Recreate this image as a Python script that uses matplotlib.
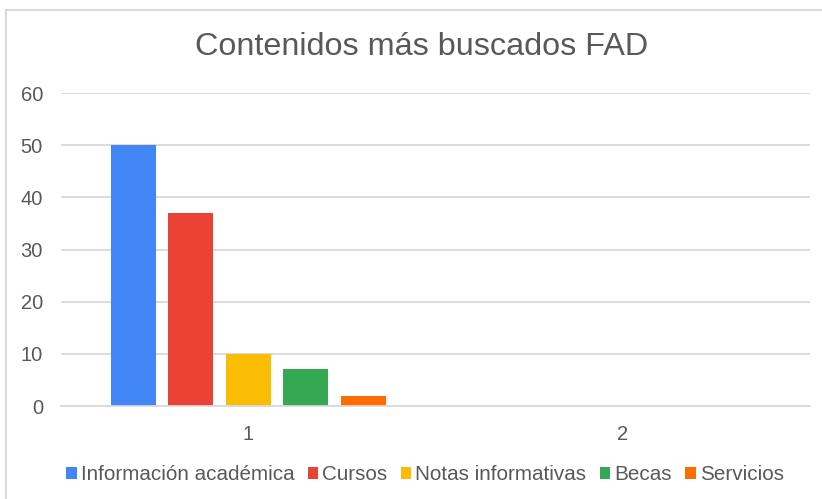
import matplotlib.pyplot as plt
import numpy as np
from matplotlib.lines import Line2D

categories = ["1", "2"]
series_names = ["Información académica", "Cursos", "Notas informativas", "Becas", "Servicios"]
series_values = [
    [50, 0],
    [37, 0],
    [10, 0],
    [7, 0],
    [2, 0],
]
series_colors = ["#4285F4", "#EA4335", "#FBBC04", "#34A853", "#FF6D01"]

plt.rcParams["font.family"] = ["Liberation Sans", "DejaVu Sans"]
text_color = "#595959"
grid_color = "#d9d9d9"

fig = plt.figure(figsize=(8.22, 4.99), dpi=100)
ax = fig.add_axes([61 / 822, 93 / 499, 749 / 822, 313 / 499])

x = np.arange(len(categories))
step = 0.1535
width = 0.12
n = len(series_names)
for i, (name, vals, col) in enumerate(zip(series_names, series_values, series_colors)):
    ax.bar(x + (i - (n - 1) / 2) * step, vals, width, color=col, label=name, linewidth=0)

ax.set_xlim(-0.5, 1.5)
ax.set_ylim(0, 60)
ax.set_yticks(range(0, 61, 10))
ax.set_xticks(x)
ax.set_xticklabels(categories)
ax.grid(axis="y", color=grid_color, linewidth=1.3)
ax.set_axisbelow(True)
for s in ["top", "right", "left"]:
    ax.spines[s].set_visible(False)
ax.spines["bottom"].set_color(grid_color)
ax.spines["bottom"].set_linewidth(1.3)
ax.tick_params(axis="both", length=0, labelsize=14.5, colors=text_color)
ax.tick_params(axis="y", pad=13)
ax.tick_params(axis="x", pad=14)

fig.text(422 / 822, 452 / 499, "Contenidos más buscados FAD", ha="center", va="center",
         fontsize=23.3, color=text_color)

leg = fig.legend(loc="center", bbox_to_anchor=(425 / 822, 24 / 499), ncol=5, frameon=False,
                 fontsize=14.9, handlelength=0.5, handleheight=0.5, handletextpad=0.2,
                 columnspacing=0.65, labelcolor=text_color)

# chart area border (left and top edges)
fig.add_artist(Line2D([6 / 822, 6 / 822], [0, 489 / 499], color=grid_color, linewidth=1.5,
                      transform=fig.transFigure))
fig.add_artist(Line2D([6 / 822, 1], [489 / 499, 489 / 499], color=grid_color, linewidth=1.5,
                      transform=fig.transFigure))

fig.savefig("out.png", dpi=100, facecolor="white")
